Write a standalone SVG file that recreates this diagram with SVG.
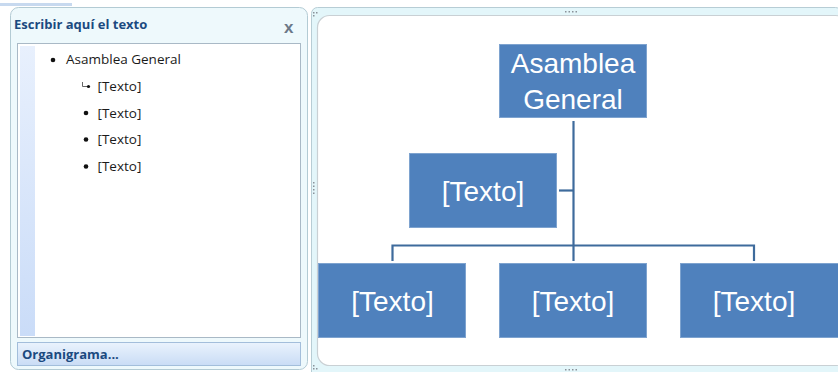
<svg xmlns="http://www.w3.org/2000/svg" width="838" height="372" viewBox="0 0 838 372">
  <defs>
    <linearGradient id="stripGrad" x1="0" y1="0" x2="0" y2="1">
      <stop offset="0" stop-color="#e8f0fd"/>
      <stop offset="1" stop-color="#cadcf8"/>
    </linearGradient>
    <linearGradient id="btnGrad" x1="0" y1="0" x2="0" y2="1">
      <stop offset="0" stop-color="#eaf3fd"/>
      <stop offset="1" stop-color="#c9dcf5"/>
    </linearGradient>
    <style>
      .pane { fill: #eef9fc; stroke: #b3cbd4; stroke-width: 1; }
      .ui { font-family: "Open Sans", "Liberation Sans", sans-serif; }
      .title { font-size: 13px; font-weight: bold; fill: #1b4a80; }
      .item { font-family: "Open Sans", "Noto Sans", sans-serif; font-size: 13.5px; fill: #1a1a1a; }
      .box { fill: #4f81bd; stroke: #7ea3cf; stroke-width: 1; }
      .boxText { font-family: "Liberation Sans", "Open Sans", sans-serif; font-size: 28px; fill: #ffffff; text-anchor: middle; }
      .conn { fill: none; stroke: #3e6b9c; stroke-width: 2.2; }
      .dot { fill: #8a9199; }
    </style>
  </defs>

  <rect x="0" y="0" width="838" height="372" fill="#ffffff"/>
  <rect x="0" y="3" width="72" height="3" fill="#c7d9ef"/>

  <!-- Text pane -->
  <g id="text-pane">
    <rect class="pane" x="10.5" y="7.5" width="297" height="362" rx="8"/>
    <text class="ui title" x="14" y="29">Escribir aquí el texto</text>
    <text x="284" y="33" font-family="Liberation Sans, sans-serif" font-size="17" font-weight="bold" fill="#6b7888">x</text>
    <rect x="17.5" y="43.5" width="283" height="294" fill="#ffffff" stroke="#a9b9c6"/>
    <rect x="20" y="46" width="15" height="290" fill="url(#stripGrad)"/>
    <circle cx="53" cy="60" r="2.3" fill="#111"/>
    <text class="item" x="66" y="64">Asamblea General</text>
    <path d="M82.5 82 V86.5 H88" fill="none" stroke="#555" stroke-width="0.9"/>
    <circle cx="88.5" cy="86.5" r="1.6" fill="#111"/>
    <text class="item" x="97.5" y="90.5">[Texto]</text>
    <circle cx="86" cy="113" r="2.3" fill="#111"/>
    <text class="item" x="97.5" y="117.5">[Texto]</text>
    <circle cx="86" cy="139.5" r="2.3" fill="#111"/>
    <text class="item" x="97.5" y="144">[Texto]</text>
    <circle cx="86" cy="166.5" r="2.3" fill="#111"/>
    <text class="item" x="97.5" y="171">[Texto]</text>
    <rect x="17.5" y="342.5" width="283" height="23" fill="url(#btnGrad)" stroke="#a3bedb"/>
    <text class="ui title" x="22" y="358.5" fill="#2a4a86">Organigrama...</text>
  </g>

  <!-- Diagram frame -->
  <g id="diagram-frame">
    <rect x="311.5" y="7.5" width="530" height="372" rx="6" fill="#e3f6fa" stroke="#b7cdd5"/>
    <rect x="317.5" y="15.5" width="530" height="350" rx="12" fill="#ffffff" stroke="#c9d0d4" stroke-width="1.2"/>
    <!-- sizing handles -->
    <g class="dot">
      <rect x="565" y="11" width="1.5" height="1.5"/><rect x="568.5" y="11" width="1.5" height="1.5"/>
      <rect x="572" y="11" width="1.5" height="1.5"/><rect x="575.5" y="11" width="1.5" height="1.5"/>
      <rect x="565" y="369" width="1.5" height="1.5"/><rect x="568.5" y="369" width="1.5" height="1.5"/>
      <rect x="572" y="369" width="1.5" height="1.5"/><rect x="575.5" y="369" width="1.5" height="1.5"/>
      <rect x="313" y="182" width="1.5" height="1.5"/><rect x="313" y="185.5" width="1.5" height="1.5"/>
      <rect x="313" y="189" width="1.5" height="1.5"/><rect x="313" y="192.5" width="1.5" height="1.5"/>
      <rect x="313" y="12" width="1.5" height="1.5"/><rect x="316" y="12" width="1.5" height="1.5"/>
      <rect x="313" y="15" width="1.5" height="1.5"/>
      <rect x="313" y="365" width="1.5" height="1.5"/><rect x="313" y="368" width="1.5" height="1.5"/>
      <rect x="316" y="368" width="1.5" height="1.5"/>
    </g>
  </g>

  <!-- Connectors -->
  <g id="connectors">
    <path class="conn" d="M573.5 121 V261"/>
    <path class="conn" d="M559 190.5 H573.5"/>
    <path class="conn" d="M392.5 261 V245.5 H754 V261"/>
  </g>

  <!-- Nodes -->
  <g id="node-asamblea">
    <rect class="box" x="499.5" y="44.5" width="147" height="73"/>
    <text class="boxText" x="573" y="72.5">Asamblea</text>
    <text class="boxText" x="573" y="108.5">General</text>
  </g>
  <g id="node-asistente">
    <rect class="box" x="409.5" y="153.5" width="147" height="74"/>
    <text class="boxText" x="483" y="200.5">[Texto]</text>
  </g>
  <g id="node-texto-1">
    <rect class="box" x="318.5" y="263.5" width="147" height="74"/>
    <text class="boxText" x="392.5" y="310.5">[Texto]</text>
  </g>
  <g id="node-texto-2">
    <rect class="box" x="499.5" y="263.5" width="147" height="74"/>
    <text class="boxText" x="573" y="310.5">[Texto]</text>
  </g>
  <g id="node-texto-3">
    <rect class="box" x="680.5" y="263.5" width="160" height="74"/>
    <text class="boxText" x="754" y="310.5">[Texto]</text>
  </g>
</svg>
